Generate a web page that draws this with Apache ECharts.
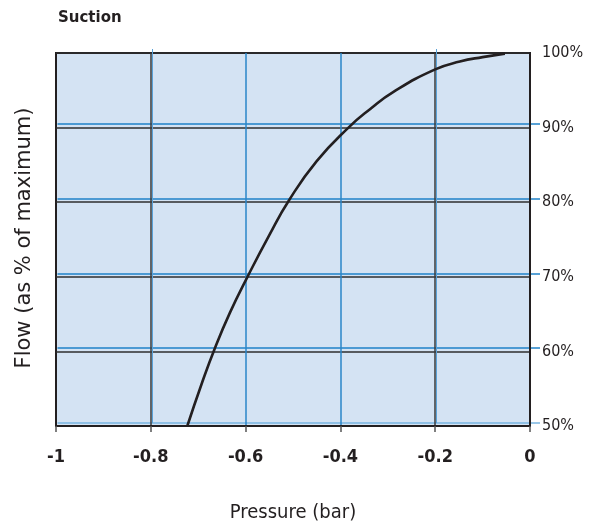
<!DOCTYPE html>
<html>
<head>
<meta charset="utf-8">
<script src="https://cdn.jsdelivr.net/npm/echarts@6/dist/echarts.min.js"></script>
<style>
html,body{margin:0;padding:0;background:#fff;}
#chart{width:592px;height:528px;}
</style>
</head>
<body>
<div id="chart"></div>
<script>
// Data
var pressure = [-0.723, -0.693, -0.665, -0.633, -0.596, -0.55, -0.508, -0.45, -0.383, -0.337, -0.288, -0.2, -0.148, -0.1, -0.053];
var flow     = [50, 55.6, 60.4, 65.2, 70, 75.6, 80.3, 85.5, 90, 92.5, 94.8, 97.8, 98.85, 99.45, 99.92];
var xTicks = [-1, -0.8, -0.6, -0.4, -0.2, 0];
var yTicks = [50, 60, 70, 80, 90, 100];

var dark = '#231f20';
var blue = '#2a86c8';
var fontMain = '"DejaVu Sans Condensed", "DejaVu Sans", sans-serif';

var chart = echarts.init(document.getElementById('chart'));
var pts = pressure.map(function (p, i) { return [p, flow[i]]; });

chart.setOption({
  animation: false,
  backgroundColor: '#ffffff',
  graphic: [
    { type: 'text', left: 58, top: 11, style: { text: 'Suction', font: 'bold 15px "DejaVu Sans", sans-serif', fill: dark } },
    { type: 'text', x: 25, y: 238, rotation: Math.PI / 2,
      style: { text: 'Flow (as % of maximum)', font: '21px "DejaVu Sans", sans-serif', fill: dark, align: 'center', verticalAlign: 'middle' } }
  ],
  grid: [
    { left: 56, top: 53, right: 62, bottom: 102, show: true, backgroundColor: '#d4e3f3', borderColor: dark, borderWidth: 2 },
    { left: 57.5, top: 49, right: 52, bottom: 105, show: false }
  ],
  xAxis: [
    { type: 'value', gridIndex: 0, min: xTicks[0], max: xTicks[xTicks.length - 1], interval: 0.2,
      name: 'Pressure (bar)', nameLocation: 'middle', nameGap: 77,
      nameTextStyle: { fontFamily: '"Liberation Sans Narrow", ' + fontMain, fontSize: 20, color: dark },
      axisLine: { show: true, lineStyle: { color: dark, width: 2 } },
      axisTick: { show: true, length: 6, lineStyle: { color: '#555', width: 1.5 } },
      axisLabel: { margin: 22, fontFamily: fontMain, fontWeight: 'bold', fontSize: 18, color: dark,
        formatter: function (v) { return String(Math.round(v * 10) / 10); } },
      splitLine: { show: true, lineStyle: { width: 1.5, color: ['rgba(0,0,0,0)', '#3a3a3a', blue, blue, '#3a3a3a', 'rgba(0,0,0,0)'] } }
    },
    { type: 'value', gridIndex: 1, min: -1, max: 0.0179, interval: 0.2, show: true,
      axisLine: { show: false }, axisTick: { show: false }, axisLabel: { show: false },
      splitLine: { show: true, lineStyle: { width: 1, color: ['rgba(0,0,0,0)', '#5aa2d8', 'rgba(0,0,0,0)', 'rgba(0,0,0,0)', '#5aa2d8', 'rgba(0,0,0,0)', 'rgba(0,0,0,0)'] } }
    }
  ],
  yAxis: [
    { type: 'value', gridIndex: 0, position: 'right', min: yTicks[0], max: yTicks[yTicks.length - 1], interval: 10,
      axisLine: { show: true, lineStyle: { color: dark, width: 2 } },
      axisTick: { show: false },
      axisLabel: { margin: 12, fontFamily: fontMain, fontSize: 16, color: dark, formatter: '{value}%' },
      splitLine: { show: true, lineStyle: { width: 1.5, color: '#2e2e2e' } }
    },
    { type: 'value', gridIndex: 1, min: 50, max: 100, interval: 10, show: true,
      axisLine: { show: false }, axisTick: { show: false }, axisLabel: { show: false },
      splitLine: { show: true, lineStyle: { width: 1.5, color: ['#78b4e0', '#1f82c8', '#1f82c8', '#1f82c8', '#1f82c8', 'rgba(0,0,0,0)'] } }
    }
  ],
  series: [
    { type: 'line', xAxisIndex: 0, yAxisIndex: 0, data: pts, smooth: 0.5, symbol: 'none',
      lineStyle: { color: dark, width: 2.6 }, z: 5 }
  ]
});
</script>
</body>
</html>
